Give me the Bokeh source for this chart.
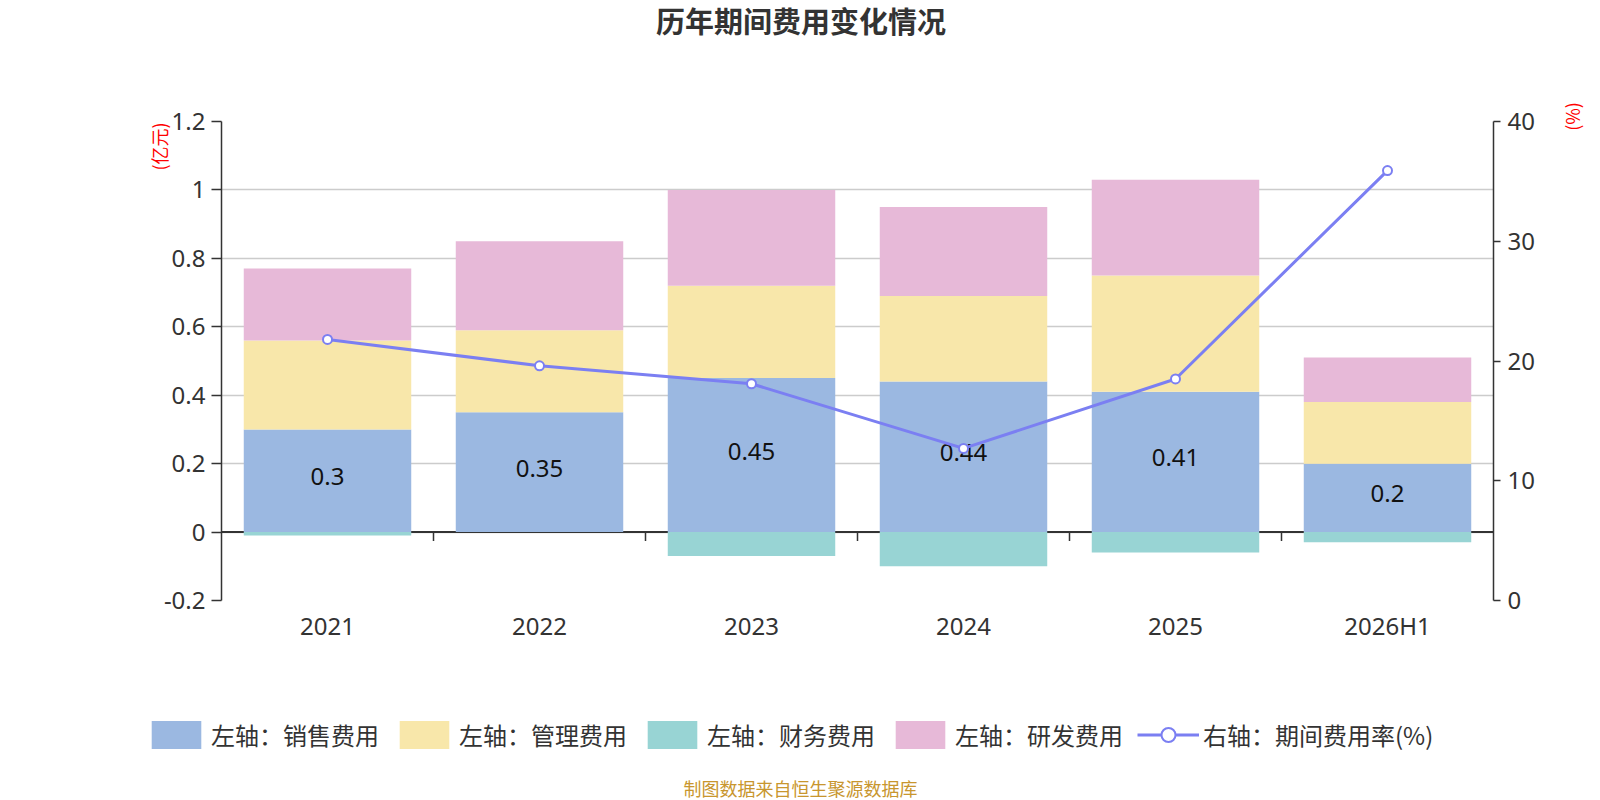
import math
import numpy as np
from bokeh.plotting import figure
from bokeh.layouts import column
from bokeh.models import (ColumnDataSource, FactorRange, Range1d, LinearAxis, FixedTicker,
                          Legend, LegendItem, Label, Span)
from bokeh.core.properties import value
from bokeh.embed import file_html
from bokeh.resources import INLINE

# ---------------- data ----------------
categories = ["2021", "2022", "2023", "2024", "2025", "2026H1"]
sales = [0.30, 0.35, 0.45, 0.44, 0.41, 0.20]        # 销售费用 (亿元)
admin = [0.26, 0.24, 0.27, 0.25, 0.34, 0.18]        # 管理费用 (亿元)
finance = [-0.01, 0.00, -0.07, -0.10, -0.06, -0.03]  # 财务费用 (亿元)
rnd = [0.21, 0.26, 0.28, 0.26, 0.28, 0.13]          # 研发费用 (亿元)
rate = [21.8, 19.6, 18.1, 12.7, 18.5, 35.9]         # 期间费用率 (%)

left_ticks = [-0.2, 0.0, 0.2, 0.4, 0.6, 0.8, 1.0, 1.2]
left_tick_labels = ["-0.2", "0", "0.2", "0.4", "0.6", "0.8", "1", "1.2"]
right_ticks = [0, 10, 20, 30, 40]
legend_labels = ["左轴：销售费用", "左轴：管理费用", "左轴：财务费用", "左轴：研发费用", "右轴：期间费用率(%)"]
title_text = "历年期间费用变化情况"
left_unit = "(亿元)"
right_unit = "(%)"
source_text = "制图数据来自恒生聚源数据库"

# ---------------- style / layout ----------------
FONT_CJK = "Noto Sans CJK SC"
FONT_NUM = "Noto Sans"
C_SALES = "#9bb8e1"
C_ADMIN = "#f8e7aa"
C_FIN = "#98d4d4"
C_RND = "#e7b9d8"
C_LINE = "#7b7ff2"
C_TEXT = "#333333"

W = 1600
H_MAIN = 690
H_FOOT = 110
BL, BR, BT, BB = 221, 107, 121, 90
frame_w = W - BL - BR
frame_h = H_MAIN - BT - BB
Y0, Y1 = -0.2, 1.2
N = len(categories)
px_per_unit = frame_h / (Y1 - Y0)


def fx(px):
    return (px - BL) / frame_w * N


def fy(py):
    return Y0 + (BT + frame_h - py) / frame_h * (Y1 - Y0)


p = figure(width=W, height=H_MAIN,
           x_range=FactorRange(factors=categories),
           y_range=Range1d(Y0, Y1),
           output_backend="svg", toolbar_location=None,
           min_border_left=BL, min_border_right=BR,
           min_border_top=BT, min_border_bottom=BB)
p.extra_y_ranges = {"pct": Range1d(0, 40)}
p.outline_line_color = None
p.background_fill_color = "white"
p.border_fill_color = "white"

# grid
p.xgrid.visible = False
p.ygrid.ticker = FixedTicker(ticks=left_ticks)
p.ygrid.grid_line_color = "#cccccc"
p.ygrid.grid_line_width = 1.5

# left axis
la = p.left[0]
la.ticker = FixedTicker(ticks=left_ticks)
la.major_label_overrides = dict(zip(left_ticks, left_tick_labels))
la.axis_line_color = C_TEXT
la.axis_line_width = 1.5
la.major_tick_line_color = C_TEXT
la.major_tick_line_width = 1.5
la.major_tick_in = 0
la.major_tick_out = 10
la.minor_tick_line_color = None
la.major_label_standoff = 6
la.major_label_text_font = FONT_NUM
la.major_label_text_font_size = "24px"
la.major_label_text_color = C_TEXT

# right axis
ra = LinearAxis(y_range_name="pct", ticker=FixedTicker(ticks=right_ticks))
ra.axis_line_color = C_TEXT
ra.axis_line_width = 1.5
ra.major_tick_line_color = C_TEXT
ra.major_tick_line_width = 1.5
ra.major_tick_in = 0
ra.major_tick_out = 7
ra.minor_tick_line_color = None
ra.major_label_standoff = 7
ra.major_label_text_font = FONT_NUM
ra.major_label_text_font_size = "24px"
ra.major_label_text_color = C_TEXT
p.add_layout(ra, "right")

# bottom axis (labels only)
xa = p.below[0]
xa.axis_line_color = None
xa.major_tick_line_color = None
xa.minor_tick_line_color = None
xa.major_tick_in = 0
xa.major_tick_out = 0
xa.major_label_standoff = 8
xa.major_label_text_font = FONT_NUM
xa.major_label_text_font_size = "24px"
xa.major_label_text_color = C_TEXT

# zero line (x axis on zero)
p.add_layout(Span(location=0, dimension="width", line_color=C_TEXT, line_width=2, level="underlay"))

# ---------------- bars ----------------
s = np.array(sales)
a = np.array(admin)
f = np.array(finance)
r = np.array(rnd)
zeros = np.zeros(N)
src = ColumnDataSource(dict(
    x=categories,
    s0=zeros, s1=s,
    a0=s, a1=s + a,
    r0=s + a, r1=s + a + r,
    f0=zeros, f1=f,
    lab_y=s / 2,
    lab=[f"{v:g}" for v in sales],
))
BW = 0.79
p.vbar(x="x", bottom="s0", top="s1", width=BW, fill_color=C_SALES, line_color=None, source=src)
p.vbar(x="x", bottom="a0", top="a1", width=BW, fill_color=C_ADMIN, line_color=None, source=src)
p.vbar(x="x", bottom="f0", top="f1", width=BW, fill_color=C_FIN, line_color=None, source=src)
p.vbar(x="x", bottom="r0", top="r1", width=BW, fill_color=C_RND, line_color=None, source=src)

# category boundary ticks on the zero line
tick_len = 9 / px_per_unit
bnd = [float(i) for i in range(1, N)]
tsrc = ColumnDataSource(dict(x=bnd, y0=[0.0] * len(bnd), y1=[-tick_len] * len(bnd)))
p.segment(x0="x", y0="y0", x1="x", y1="y1", line_color=C_TEXT, line_width=1.5, source=tsrc)

# value labels in sales bars
p.text(x="x", y="lab_y", text="lab", source=src, text_align="center", text_baseline="middle",
       y_offset=-4, text_font=value(FONT_NUM), text_font_size="24px", text_color="#111111")

# ---------------- line ----------------
lsrc = ColumnDataSource(dict(x=categories, y=rate))
p.line(x="x", y="y", source=lsrc, y_range_name="pct", line_color=C_LINE, line_width=3)
p.scatter(x="x", y="y", source=lsrc, y_range_name="pct", marker="circle", size=9,
          fill_color="white", line_color=C_LINE, line_width=2)

# ---------------- texts in side panels (not clipped) ----------------
p.add_layout(Label(x=fx(800.6), y=fy(19.5), text=title_text, text_align="center", text_baseline="middle",
                   text_font=FONT_CJK, text_font_size="29px", text_font_style="bold",
                   text_color=C_TEXT), "above")
p.add_layout(Label(x=fx(158.5), y=fy(146), text=left_unit, angle=math.pi / 2, text_align="center",
                   text_baseline="middle", text_font=FONT_CJK, text_font_size="18px",
                   text_color="#ff0000"), "left")
p.add_layout(Label(x=fx(1571.5), y=fy(116), text=right_unit, angle=math.pi / 2, text_align="center",
                   text_baseline="middle", text_font=FONT_CJK, text_font_size="18px",
                   text_color="#ff0000"), "right")

# ---------------- footer figure: legend + source note ----------------
q = figure(width=W, height=H_FOOT, x_range=Range1d(0, W), y_range=Range1d(H_FOOT, 0),
           output_backend="svg", toolbar_location=None, x_axis_type=None, y_axis_type=None,
           min_border_left=0, min_border_right=0, min_border_top=0, min_border_bottom=0)
q.outline_line_color = None
q.xgrid.visible = False
q.ygrid.visible = False
q.background_fill_color = "white"
q.border_fill_color = "white"

# hidden proxies (same series) that only give the legend its swatches
idx = list(range(N))
k_sales = q.vbar(x=idx, top=sales, width=0.5, fill_color=C_SALES, line_color=None, visible=False)
k_admin = q.vbar(x=idx, top=admin, width=0.5, fill_color=C_ADMIN, line_color=None, visible=False)
k_fin = q.vbar(x=idx, top=finance, width=0.5, fill_color=C_FIN, line_color=None, visible=False)
k_rnd = q.vbar(x=idx, top=rnd, width=0.5, fill_color=C_RND, line_color=None, visible=False)
k_line = q.line(x=idx, y=rate, line_color=C_LINE, line_width=3, visible=False)
k_pts = q.scatter(x=idx, y=rate, marker="circle", size=9, fill_color="white", line_color=C_LINE,
                  line_width=2, visible=False)

legend = Legend(items=[
    LegendItem(label=legend_labels[0], renderers=[k_sales]),
    LegendItem(label=legend_labels[1], renderers=[k_admin]),
    LegendItem(label=legend_labels[2], renderers=[k_fin]),
    LegendItem(label=legend_labels[3], renderers=[k_rnd]),
    LegendItem(label=legend_labels[4], renderers=[k_line, k_pts]),
], orientation="horizontal", location=(145, 48),
    glyph_width=62, glyph_height=35, label_standoff=4, spacing=14,
    padding=0, margin=0, border_line_color=None, background_fill_alpha=0,
    label_text_font=FONT_CJK, label_text_font_size="24px", label_text_color=C_TEXT)
q.add_layout(legend, "center")

q.add_layout(Label(x=800, y=97, text=source_text, text_align="center", text_baseline="middle",
                   text_font=FONT_CJK, text_font_size="18px", text_color="#c8962e"))

layout = column(p, column(q, spacing=0), spacing=0)
open("out.html", "w").write(file_html(layout, INLINE))
